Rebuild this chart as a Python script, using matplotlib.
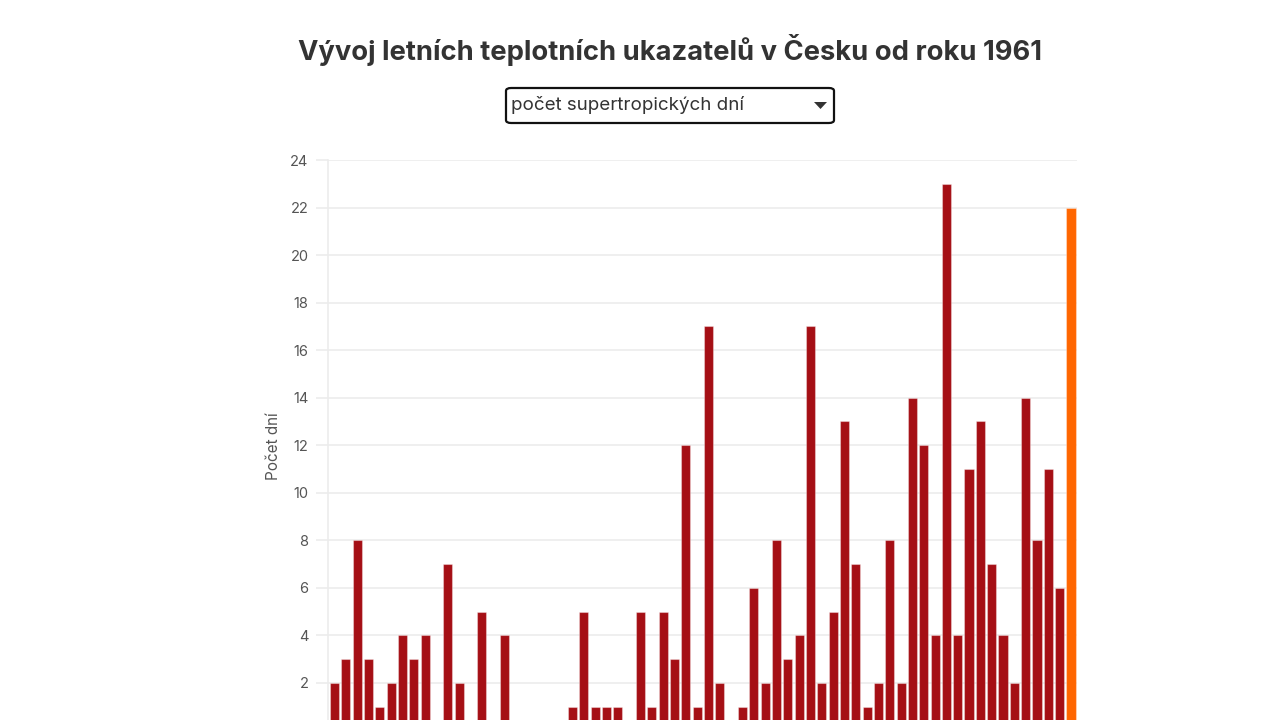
import matplotlib
matplotlib.use('Agg')

import matplotlib.pyplot as plt
from matplotlib.patches import FancyBboxPatch, Polygon

plt.rcParams['font.family'] = ['Inter', 'DejaVu Sans']

# ─── Data ───
years = list(range(1961, 2027))
supertropical_days = [
    2, 3, 8, 3, 1, 2, 4, 3, 4, 0,
    7, 2, 0, 5, 0, 4, 0, 0, 0, 0,
    0, 1, 5, 1, 1, 1, 0, 5, 1, 5,
    3, 12, 1, 17, 2, 0, 1, 6, 2, 8,
    3, 4, 17, 2, 5, 13, 7, 1, 2, 8,
    2, 14, 12, 4, 23, 4, 11, 13, 7, 4,
    2, 14, 8, 11, 6, 22,
]
y_ticks = [2, 4, 6, 8, 10, 12, 14, 16, 18, 20, 22, 24]
title = 'Vývoj letních teplotních ukazatelů v Česku od roku 1961'
dropdown_label = 'počet supertropických dní'
y_label = 'Počet dní'

BAR_COLOR = '#a50f15'
HIGHLIGHT = '#ff6600'
GRID = '#ececec'
TEXT = '#555555'

W, H = 1280, 720
fig = plt.figure(figsize=(W / 100, H / 100), dpi=100)
fig.patch.set_facecolor('white')

# axes placed in pixel terms; bottom (value 0) sits just below the visible frame
left, right, top, bottom = 328, 1077, 160, 730.5
ax = fig.add_axes([left / W, (H - bottom) / H, (right - left) / W, (bottom - top) / H])

colors = [BAR_COLOR] * (len(years) - 1) + [HIGHLIGHT]
x = list(range(len(years)))
ax.bar(x, supertropical_days, width=0.8, color=colors,
       edgecolor=(1, 1, 1, 0.35), linewidth=0.8, zorder=3)

ax.set_xlim(-0.58, len(years) - 0.47)
ax.set_ylim(0, 24)
ax.set_yticks(y_ticks)
ax.set_yticklabels([str(t) for t in y_ticks])
ax.set_xticks([])
ax.tick_params(axis='y', length=9, width=1.2, color=GRID, pad=5,
               labelsize=10.5, labelcolor=TEXT)
ax.grid(axis='y', color=GRID, linewidth=1.2, zorder=0)
for s in ['top', 'right', 'bottom']:
    ax.spines[s].set_visible(False)
ax.spines['left'].set_color(GRID)
ax.spines['left'].set_linewidth(1.2)

fig.text(274 / W, 1 - 446 / H, y_label, rotation=90, ha='center', va='center',
         fontsize=11, color=TEXT)

# ─── Title and dropdown ───
fig.text(670 / W, 1 - 50 / H, title, ha='center', va='center',
         fontsize=19.7, fontweight='bold', color='#333333')

box = FancyBboxPatch((506 / W, 1 - 123 / H), 328 / W, 35 / H,
                     boxstyle='round,pad=0,rounding_size=0.004',
                     transform=fig.transFigure, facecolor='white',
                     edgecolor='#111111', linewidth=1.6)
fig.patches.append(box)
fig.text(511 / W, 1 - 105 / H, dropdown_label, ha='left', va='center',
         fontsize=13.5, color='#333333')
tri = Polygon([(814 / W, 1 - 102 / H), (827 / W, 1 - 102 / H), (820.5 / W, 1 - 109 / H)],
              closed=True, transform=fig.transFigure, facecolor='#333333', edgecolor='none')
fig.patches.append(tri)

fig.savefig('out.png', dpi=100)
plt.close(fig)
